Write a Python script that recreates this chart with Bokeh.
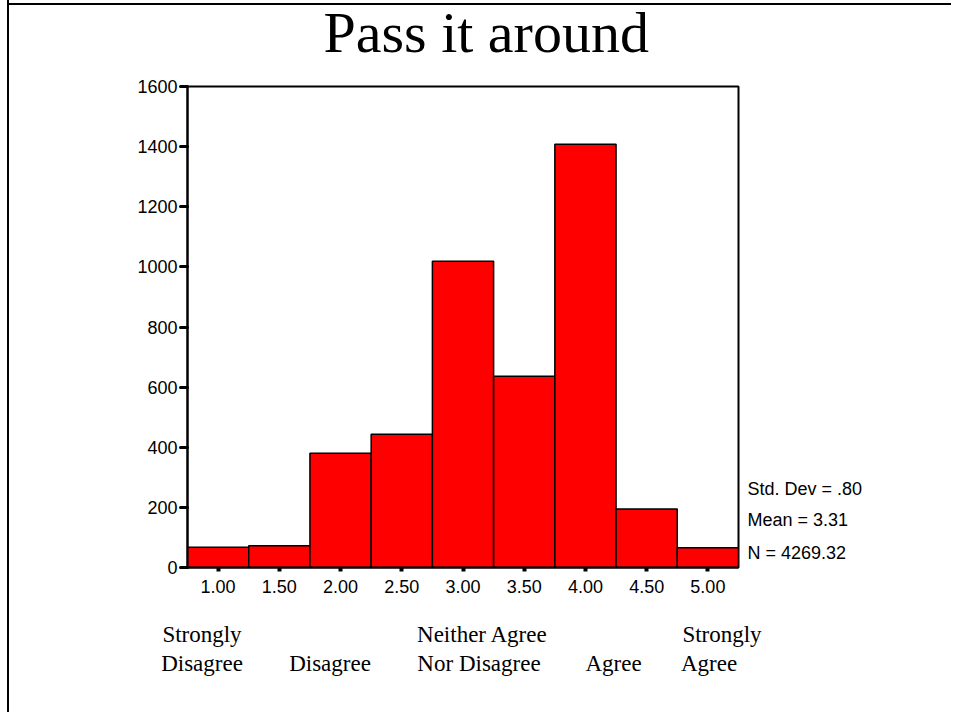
from bokeh.plotting import figure
from bokeh.models import Range1d, FixedTicker, LinearAxis, Label
from bokeh.layouts import column
from bokeh.embed import file_html
from bokeh.resources import INLINE

# ---- data ----
bin_centers = [1.0, 1.5, 2.0, 2.5, 3.0, 3.5, 4.0, 4.5, 5.0]
counts = [67, 72, 380, 443, 1019, 636, 1408, 195, 66]
x_tick_labels = ["1.00", "1.50", "2.00", "2.50", "3.00", "3.50", "4.00", "4.50", "5.00"]
y_ticks = [0, 200, 400, 600, 800, 1000, 1200, 1400, 1600]
stats_lines = ["Std. Dev = .80", "Mean = 3.31", "N = 4269.32"]
category_line1 = ["Strongly", "Neither Agree", "Strongly"]
category_line2 = ["Disagree", "Disagree", "Nor Disagree", "Agree", "Agree"]
title_text = "Pass it around"
bin_width = 0.5

# ---- layout (page pixels) ----
OX, OY = 9, 0            # canvas origin on page (after css margin + left border)
W = 942
TH = 75                  # height of the title strip
H = 712 - TH             # height of the chart figure
CY = OY + TH             # chart canvas top on page
FL, FR, FT, FB = 187 - OX, 738 - OX, 86 - CY, 567 - CY   # frame in chart canvas coords
X0, X1 = 0.75, 5.25
Y0, Y1 = 0, 1600

def dx(px):
    return X0 + (px - OX - FL) * (X1 - X0) / (FR - FL)

def dy_center(py):
    return Y0 + (FB - (py - CY)) * (Y1 - Y0) / (FB - FT)

line1_centers = [201.5, 482, 721.5]
line2_centers = [201.5, 329.5, 478.5, 613, 708.5]
stat_centers = [488, 519, 552]
title_left, title_mid_y = 323, 32

SANS = "Liberation Sans"
SERIF = "Liberation Serif"

# ---- title strip (its frame spans the same columns as the chart frame; page-pixel ranges) ----
t = figure(width=W, height=TH, output_backend="svg", toolbar_location=None, title=None,
           x_range=Range1d(187, 738), y_range=Range1d(OY + TH, OY),
           x_axis_type=None, y_axis_type=None,
           min_border_left=FL, min_border_right=W - FR, min_border_top=0, min_border_bottom=0)
t.outline_line_color = None
t.background_fill_color = None
t.border_fill_color = None
t.xgrid.visible = False
t.ygrid.visible = False
# thin black rule along the top of the page (y = 3..5)
t.styles = {"box-shadow": "inset 0 3px 0 0 white, inset 0 5px 0 0 black"}
t.add_layout(Label(x=title_left, y=title_mid_y, text=title_text, text_align="left",
                   text_baseline="middle",
                   text_font=SERIF, text_font_size="58px", text_color="black"))

# ---- chart ----
p = figure(width=W, height=H, output_backend="svg", toolbar_location=None, title=None,
           x_range=Range1d(X0, X1), y_range=Range1d(Y0, Y1),
           min_border_left=FL, min_border_right=W - FR,
           min_border_top=FT, min_border_bottom=H - FB)
p.background_fill_color = "white"
p.border_fill_color = "white"
p.outline_line_color = "black"
p.outline_line_width = 2
p.xgrid.visible = False
p.ygrid.visible = False

lefts = [c - bin_width / 2 for c in bin_centers]
rights = [c + bin_width / 2 for c in bin_centers]
p.quad(left=lefts, right=rights, bottom=0, top=counts,
       fill_color="#FF0000", line_color="black", line_width=1.5)

# x axis
xa = p.xaxis[0]
xa.ticker = FixedTicker(ticks=bin_centers)
xa.major_label_overrides = {c: l for c, l in zip(bin_centers, x_tick_labels)}
xa.axis_line_width = 2
xa.major_tick_in = 0
xa.major_tick_out = 4
xa.major_tick_line_width = 4
xa.minor_tick_line_color = None
xa.major_label_standoff = 8
xa.major_label_text_font = SANS
xa.major_label_text_font_size = "18px"
xa.major_label_text_color = "black"

# y axis
ya = p.yaxis[0]
ya.ticker = FixedTicker(ticks=y_ticks)
ya.axis_line_width = 2
ya.major_tick_in = 0
ya.major_tick_out = 7
ya.major_tick_line_width = 3
ya.major_tick_line_cap = "round"
ya.minor_tick_line_color = None
ya.major_label_standoff = 3
ya.major_label_text_font = SANS
ya.major_label_text_font_size = "18px"
ya.major_label_text_color = "black"

def text_axis(positions, labels, font, size, standoff):
    return LinearAxis(ticker=FixedTicker(ticks=positions),
                      major_label_overrides={v: l for v, l in zip(positions, labels)},
                      axis_line_color=None, major_tick_line_color=None,
                      minor_tick_line_color=None, major_tick_in=0, major_tick_out=0,
                      minor_tick_in=0, minor_tick_out=0,
                      major_label_standoff=standoff,
                      major_label_text_font=font, major_label_text_font_size=size,
                      major_label_text_color="black")

# stats on the right
p.add_layout(text_axis([dy_center(c) for c in stat_centers], stats_lines, SANS, "18px", 9), "right")

# category labels below
p.add_layout(text_axis([dx(c) for c in line1_centers], category_line1, SERIF, "23px", 26), "below")
p.add_layout(text_axis([dx(c) for c in line2_centers], category_line2, SERIF, "23px", 1), "below")

layout = column(t, p, spacing=0)
layout.styles = {"margin-left": "7px", "border-left": "2px solid black"}

open("out.html", "w").write(file_html(layout, INLINE))
